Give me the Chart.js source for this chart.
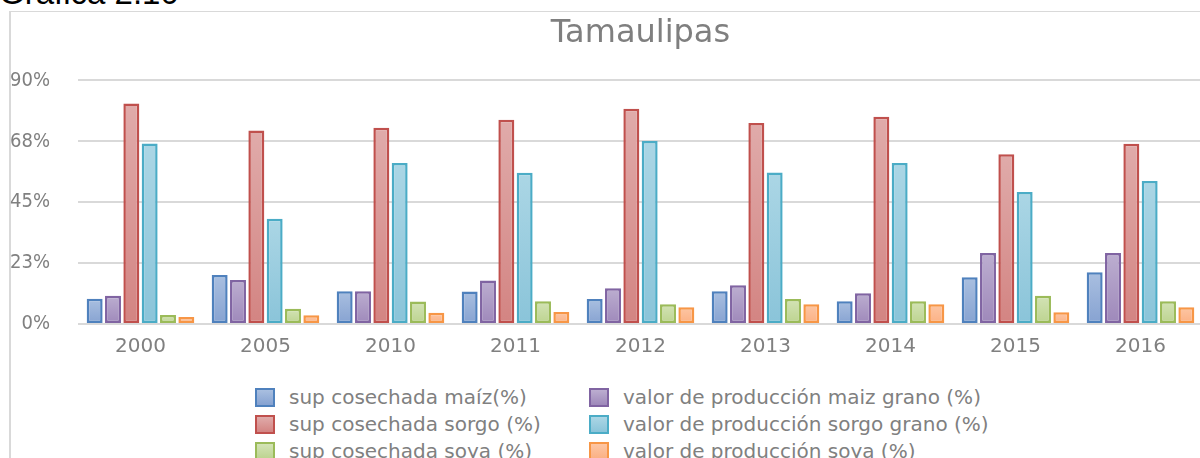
<!DOCTYPE html>
<html>
<head>
<meta charset="utf-8">
<script src="https://cdn.jsdelivr.net/npm/chart.js@4.4.1/dist/chart.umd.min.js"></script>
<style>
  html, body { margin: 0; padding: 0; width: 1200px; height: 458px; overflow: hidden; background: #ffffff; }
  #caption { position: absolute; left: -1px; top: -24px; font-family: "Liberation Sans", Arial, sans-serif; font-size: 33px; line-height: 33px; color: #000; white-space: nowrap; }
  #frame { position: absolute; left: 9px; top: 11px; width: 1300px; height: 600px; border-left: 2px solid #d9d9d9; border-top: 1px solid #d9d9d9; }
  #wrap { position: absolute; left: 10px; top: 11px; width: 1200px; height: 353px; }
  #legend { position: absolute; left: 0; top: 0; }
  .item { position: absolute; height: 27px; font-family: "DejaVu Sans", sans-serif; font-size: 20px; line-height: 27px; color: #808080; white-space: nowrap; }
  .box { position: absolute; left: 0; top: 4px; width: 16px; height: 15px; border: 2px solid; }
  .lbl { position: absolute; top: 0; }
</style>
</head>
<body>
<div id="caption">Gráfica 2.10</div>
<div id="frame"></div>
<div id="wrap"><canvas id="c"></canvas></div>
<div id="legend"></div>
<script>
const categories = ['2000', '2005', '2010', '2011', '2012', '2013', '2014', '2015', '2016'];
const seriesNames = [
  'sup cosechada maíz(%)',
  'valor de producción maiz grano (%)',
  'sup cosechada sorgo (%)',
  'valor de producción sorgo grano (%)',
  'sup cosechada soya (%)',
  'valor de producción soya (%)'
];
const supMaiz      = [9.3, 18.1, 12.1, 12.0, 9.2, 12.1, 8.4, 17.3, 19.1];
const valorMaiz    = [10.4, 16.3, 12.1, 16.1, 13.2, 14.3, 11.4, 26.2, 26.2];
const supSorgo     = [81.5, 71.5, 72.5, 75.5, 79.5, 74.3, 76.6, 62.7, 66.6];
const valorSorgo   = [66.7, 38.9, 59.5, 55.9, 67.6, 56.0, 59.5, 48.8, 52.8];
const supSoya      = [3.3, 5.6, 8.3, 8.4, 7.3, 9.2, 8.4, 10.4, 8.4];
const valorSoya    = [2.6, 3.2, 4.2, 4.4, 6.2, 7.3, 7.3, 4.3, 6.2];
const yTickValues  = [0, 22.5, 45, 67.5, 90];
const yTickLabels  = ['0%', '23%', '45%', '68%', '90%'];

const seriesValues = [supMaiz, valorMaiz, supSorgo, valorSorgo, supSoya, valorSoya];
const borders  = ['#4f81bd', '#8064a2', '#c0504d', '#4bacc6', '#9bbb59', '#f79646'];
const fillTop  = ['#a9bfe0', '#bcaed0', '#e0abaa', '#abd6e5', '#d3e3b6', '#fdc6a4'];
const fillBot  = ['#86a2d1', '#9e88ba', '#d38482', '#8ac4d9', '#bcd38e', '#fbb083'];

function barFill(i) {
  return function (ctx) {
    if (ctx.type !== 'data' || !ctx.chart.chartArea) return fillTop[i];
    const ys = ctx.chart.scales.y;
    const top = ys.getPixelForValue(ctx.raw);
    const base = ys.getPixelForValue(0);
    if (!isFinite(top) || !isFinite(base) || top === base) return fillTop[i];
    const g = ctx.chart.ctx.createLinearGradient(0, top, 0, base);
    g.addColorStop(0, fillTop[i]);
    g.addColorStop(1, fillBot[i]);
    return g;
  };
}

const datasets = seriesValues.map((vals, i) => ({
  label: seriesNames[i],
  data: vals,
  backgroundColor: barFill(i),
  borderColor: borders[i],
  borderWidth: 2.5,
  borderSkipped: false,
  categoryPercentage: 0.88,
  barPercentage: 0.87
}));

const chart = new Chart(document.getElementById('c'), {
  type: 'bar',
  data: { labels: categories, datasets: datasets },
  options: {
    responsive: true,
    maintainAspectRatio: false,
    animation: false,
    layout: { padding: { left: 0, right: 7, top: 0, bottom: 0 } },
    plugins: {
      legend: { display: false },
      tooltip: { enabled: false },
      title: {
        display: true,
        text: 'Tamaulipas',
        fullSize: false,
        color: '#7f7f7f',
        font: { family: 'DejaVu Sans', size: 32, weight: 'normal' },
        padding: { top: 3, bottom: 28 }
      }
    },
    scales: {
      x: {
        grid: { display: false },
        border: { display: false },
        ticks: {
          color: '#808080',
          font: { family: 'DejaVu Sans', size: 20 },
          padding: 3,
          maxRotation: 0
        }
      },
      y: {
        min: 0,
        max: 90,
        afterFit: function (scale) { scale.width = 68; },
        afterBuildTicks: function (scale) { scale.ticks = yTickValues.map(v => ({ value: v })); },
        grid: { color: '#d9d9d9', lineWidth: 2, drawTicks: false },
        border: { display: false },
        ticks: {
          color: '#808080',
          font: { family: 'DejaVu Sans Condensed', size: 20 },
          padding: 28,
          callback: function (value) {
            const idx = yTickValues.indexOf(value);
            return idx >= 0 ? yTickLabels[idx] : '';
          }
        }
      }
    }
  }
});

// HTML legend (two columns, three rows)
const legend = document.getElementById('legend');
const colX = [255, 589];
const rowY = [384, 411, 438];
seriesNames.forEach((name, i) => {
  const item = document.createElement('div');
  item.className = 'item';
  item.style.left = colX[i % 2] + 'px';
  item.style.top = rowY[Math.floor(i / 2)] + 'px';
  const box = document.createElement('div');
  box.className = 'box';
  box.style.borderColor = borders[i];
  box.style.background = 'linear-gradient(' + fillTop[i] + ',' + fillBot[i] + ')';
  const lbl = document.createElement('span');
  lbl.className = 'lbl';
  lbl.style.left = '34px';
  lbl.textContent = name;
  item.appendChild(box);
  item.appendChild(lbl);
  legend.appendChild(item);
});
</script>
</body>
</html>
